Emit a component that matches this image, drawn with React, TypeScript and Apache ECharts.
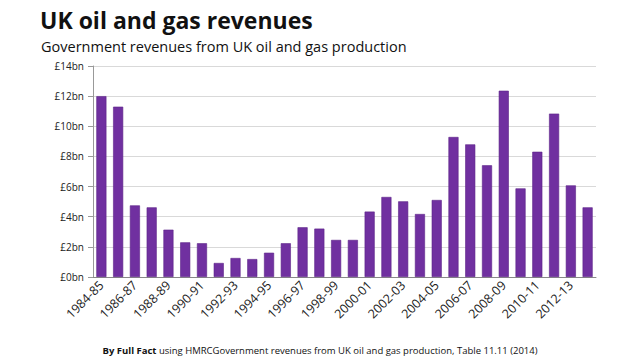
import React, { useEffect, useRef } from "react";
import * as echarts from "echarts";

const categories = [
  "1984-85", "1985-86", "1986-87", "1987-88", "1988-89", "1989-90", "1990-91", "1991-92",
  "1992-93", "1993-94", "1994-95", "1995-96", "1996-97", "1997-98", "1998-99", "1999-00",
  "2000-01", "2001-02", "2002-03", "2003-04", "2004-05", "2005-06", "2006-07", "2007-08",
  "2008-09", "2009-10", "2010-11", "2011-12", "2012-13", "2013-14",
];
const revenues = [
  12.0, 11.3, 4.75, 4.62, 3.14, 2.3, 2.24, 0.93, 1.26, 1.19, 1.61, 2.24, 3.3, 3.21, 2.46,
  2.46, 4.34, 5.31, 5.02, 4.18, 5.11, 9.29, 8.8, 7.41, 12.36, 5.88, 8.31, 10.84, 6.08, 4.62,
];
const titleText = "UK oil and gas revenues";
const subtitleText = "Government revenues from UK oil and gas production";
const sourceBold = "By Full Fact";
const sourceRest = " using HMRCGovernment revenues from UK oil and gas production, Table 11.11 (2014)";

const FONT = "'Open Sans', 'Noto Sans', sans-serif";

export default function App() {
  const ref = useRef<HTMLDivElement>(null);
  useEffect(() => {
    if (!ref.current) return;
    const chart = echarts.init(ref.current, null, { renderer: "svg" });
    chart.setOption({
      animation: false,
      backgroundColor: "#ffffff",
      textStyle: { fontFamily: FONT },
      title: [
        {
          text: titleText,
          left: 35,
          top: 3,
          textStyle: { fontFamily: FONT, fontSize: 23, fontWeight: "bold", color: "#111" },
        },
        {
          text: subtitleText,
          left: 36,
          top: 34,
          textStyle: { fontFamily: FONT, fontSize: 14.5, fontWeight: "normal", color: "#111" },
        },
        {
          text: "{b|" + sourceBold + "}{r|" + sourceRest + "}",
          left: "center",
          top: 340,
          textStyle: {
            fontWeight: "normal",
            fontSize: 9.5,
            rich: {
              b: { fontFamily: FONT, fontSize: 9.5, fontWeight: "bold", color: "#111" },
              r: { fontFamily: FONT, fontSize: 9.5, fontWeight: "normal", color: "#111" },
            },
          },
        },
      ],
      grid: { left: 93, right: 44, top: 66, bottom: 83 },
      xAxis: {
        type: "category",
        data: categories,
        axisLine: { lineStyle: { color: "#888" } },
        axisTick: { interval: 0, length: 5, lineStyle: { color: "#888" } },
        axisLabel: {
          interval: 1,
          rotate: 45,
          fontSize: 12.5,
          color: "#222",
          fontFamily: FONT,
          margin: 6,
        },
      },
      yAxis: {
        type: "value",
        min: 0,
        max: 14,
        interval: 2,
        axisLine: { show: true, lineStyle: { color: "#999" } },
        axisTick: { show: true, length: 5, lineStyle: { color: "#999" } },
        splitLine: { lineStyle: { color: "#d9d9d9" } },
        axisLabel: {
          formatter: (v: number) => "£" + v + "bn",
          fontSize: 10,
          color: "#222",
          fontFamily: FONT,
          margin: 9,
        },
      },
      series: [
        {
          type: "bar",
          data: revenues,
          barWidth: "60%",
          itemStyle: { color: "#7030a0", borderColor: "#5c2388", borderWidth: 0.6 },
        },
      ],
    });
    return () => chart.dispose();
  }, []);
  return <div ref={ref} style={{ width: 640, height: 360, position: "absolute", left: 0, top: 0 }} />;
}
